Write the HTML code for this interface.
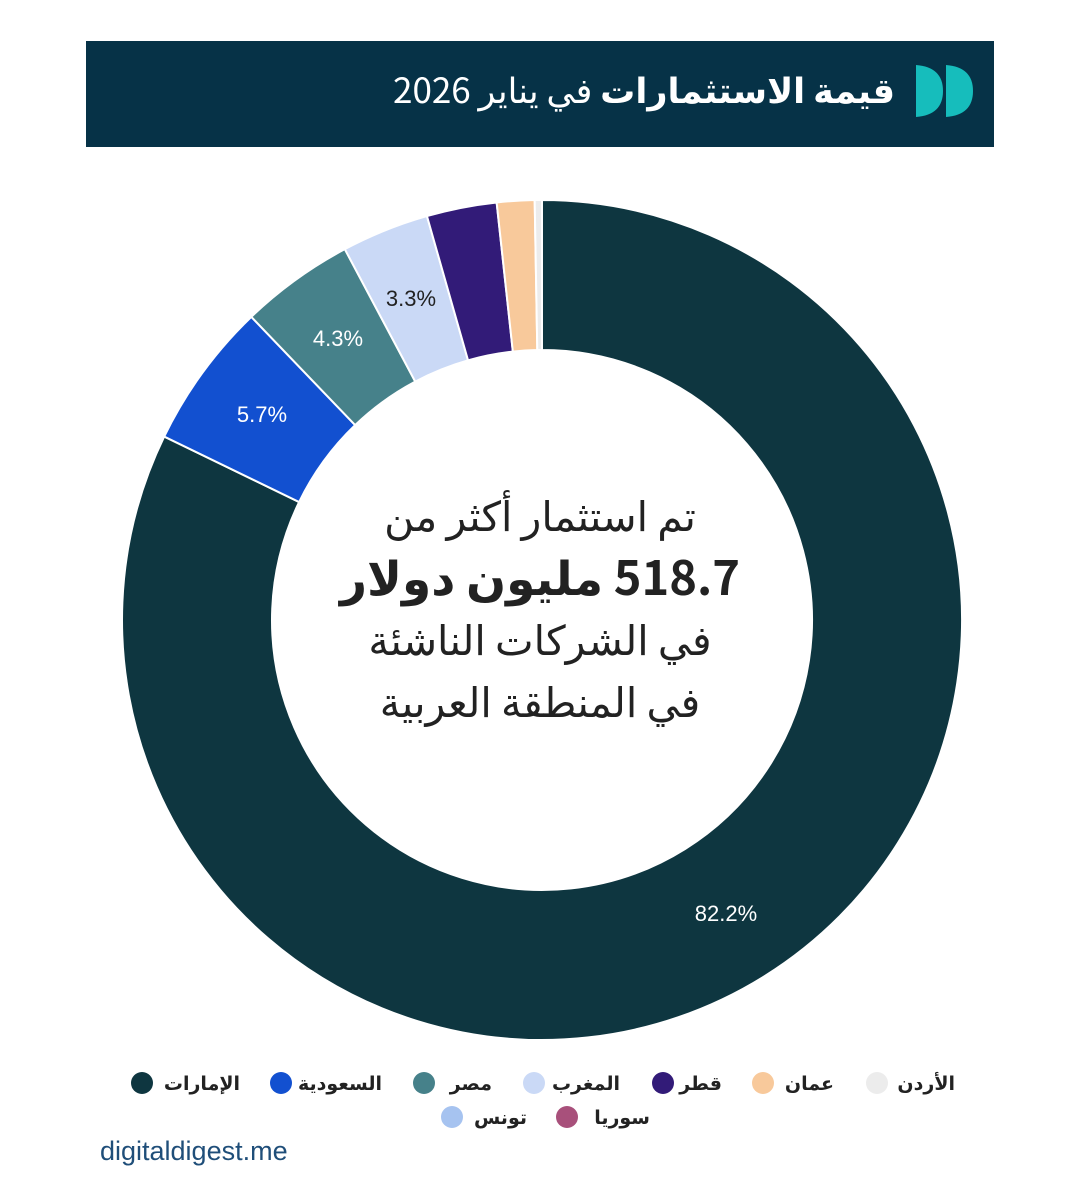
<!DOCTYPE html>
<html><head><meta charset="utf-8"><style>
body{margin:0;width:1080px;height:1194px;background:#fff;overflow:hidden;position:relative;font-family:"Liberation Sans","Noto Sans CJK SC",sans-serif}
.hdr{position:absolute;left:86px;top:41px;width:908px;height:106px;background:#063247}
.t{position:absolute;right:185px;top:63px;color:#fff;font-size:35px;direction:rtl;white-space:nowrap;font-family:"Noto Sans CJK SC","DejaVu Sans",sans-serif}
</style></head><body>
<div class="hdr"></div>
<svg style="position:absolute;left:913px;top:63px" width="64" height="56"><path d="M3 2 Q30 4 30 28 Q30 52 3 54 Z" fill="#16bdbc"/><path d="M33 2 Q60 4 60 28 Q60 52 33 54 Z" fill="#16bdbc"/></svg>
<div class="t"><b>قيمة الاستثمارات</b> في يناير 2026</div>
<svg id="s" width="1080" height="1194" style="position:absolute;left:0;top:0"></svg>
<div style="position:absolute;left:290px;width:500px;top:482px;text-align:center;direction:rtl;color:#222;font-family:'Noto Sans CJK SC','DejaVu Sans',sans-serif;line-height:62px">
<div style="font-size:41px">تم استثمار أكثر من</div>
<div style="font-size:47px;font-weight:bold">518.7 مليون دولار</div>
<div style="font-size:41px">في الشركات الناشئة</div>
<div style="font-size:41px">في المنطقة العربية</div></div>
<div style="position:absolute;left:100px;top:1136px;font-size:27px;color:#1f4e79">digitaldigest.me</div>
<script>
var s=document.getElementById('s'),cx=542,cy=620,R=420,r=270;
function arc(a0,a1,c){function pt(a,rr){return (cx+rr*Math.sin(a*Math.PI/180)).toFixed(2)+' '+(cy-rr*Math.cos(a*Math.PI/180)).toFixed(2);}
var l=(a1-a0)>180?1:0;return '<path d="M'+pt(a0,R)+' A'+R+' '+R+' 0 '+l+' 1 '+pt(a1,R)+' L'+pt(a1,r)+' A'+r+' '+r+' 0 '+l+' 0 '+pt(a0,r)+' Z" fill="'+c+'" stroke="#fff" stroke-width="2"/>';}
var h='';
h+=arc(0,295.9,'#0e3640');h+=arc(295.9,316.2,'#1250d0');h+=arc(316.2,332,'#46818a');h+=arc(332,344.1,'#cad9f6');h+=arc(344.1,353.8,'#321b78');h+=arc(353.8,359,'#f8c99b');h+=arc(359,360,'#ececec');
var L=[[726,921,'82.2%'],[262,422,'5.7%'],[338,346,'4.3%'],[411,306,'3.3%']];
L.forEach(function(q){h+='<text x="'+q[0]+'" y="'+q[1]+'" fill="'+(q[2]=='3.3%'?'#222':'#fff')+'" font-size="22" text-anchor="middle" font-family="Liberation Sans">'+q[2]+'</text>';});
var G=[[142,1083,'#0e3640','الإمارات',240],[281,1083,'#1250d0','السعودية',382],[424,1083,'#46818a','مصر',492],[534,1083,'#cad9f6','المغرب',620],[663,1083,'#321b78','قطر',722],[763,1083,'#f8c99b','عمان',834],[877,1083,'#ececec','الأردن',955],[452,1117,'#a6c3f0','تونس',527],[567,1117,'#a8507b','سوريا',650]];
G.forEach(function(g){h+='<circle cx="'+g[0]+'" cy="'+g[1]+'" r="11" fill="'+g[2]+'"/><text x="'+g[4]+'" y="'+(g[1]+7)+'" text-anchor="end" font-size="19" font-weight="bold" fill="#222" font-family="DejaVu Sans">'+g[3]+'</text>';});
s.innerHTML=h;
</script>
</body></html>
